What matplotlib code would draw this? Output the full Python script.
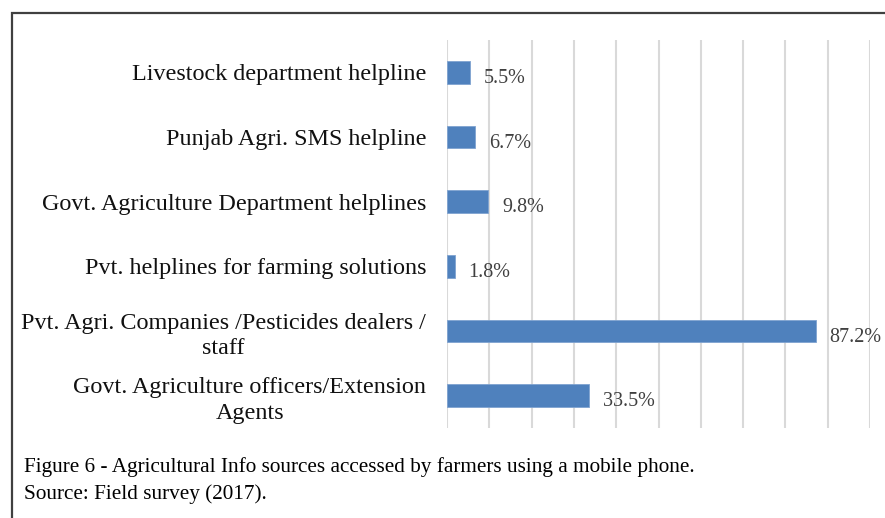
import matplotlib.pyplot as plt
from matplotlib.patches import Rectangle

# ---------------------------------
# data (top to bottom)
# ---------------------------------
categories = [
    "Livestock department helpline",
    "Punjab Agri. SMS helpline",
    "Govt. Agriculture Department helplines",
    "Pvt. helplines for farming solutions",
    "Pvt. Agri. Companies /Pesticides dealers /\nstaff",
    "Govt. Agriculture officers/Extension\nAgents",
]
values = [5.5, 6.7, 9.8, 1.8, 87.2, 33.5]
value_labels = ["5.5%", "6.7%", "9.8%", "1.8%", "87.2%", "33.5%"]

plt.rcParams["font.family"] = ["Liberation Serif", "DejaVu Serif"]

fig = plt.figure(figsize=(8.85, 5.18), dpi=100)
ax = fig.add_axes([447 / 885, 1 - 428 / 518, 423 / 885, 388 / 518])

y = range(len(categories))
ax.barh(y, values, height=0.35, color="#4F81BD", edgecolor="#7FA3D0", linewidth=0.6, zorder=3)

for i, (v, lab) in enumerate(zip(values, value_labels)):
    ax.annotate(lab, (v, i), xytext=(10, -4.5), textcoords="offset points",
                ha="left", va="center", fontsize=14.5, color="#404040")

ax.set_xlim(0, 100)
ax.set_ylim(len(categories) - 0.5, -0.5)
ax.set_xticks(range(0, 101, 10))
ax.set_xticklabels([])
ax.tick_params(axis="both", length=0)
ax.grid(axis="x", color="#D9D9D9", linewidth=1.5, zorder=0)
for s in ax.spines.values():
    s.set_visible(False)

ax.set_yticks(list(y))
ax.set_yticklabels(categories, fontsize=17.4, color="#111111",
                   multialignment="center", linespacing=1.3)
ax.tick_params(axis="y", pad=15)

# ---------------------------------
# caption
# ---------------------------------
fig.text(24 / 885, 1 - 467 / 518, "Figure 6 - Agricultural Info sources accessed by farmers using a mobile phone.",
         fontsize=15.3, va="center", ha="left", color="black")
fig.text(24 / 885, 1 - 494 / 518, "Source: Field survey (2017).",
         fontsize=15.3, va="center", ha="left", color="black")

# ---------------------------------
# frame
# ---------------------------------
fig.patches.append(Rectangle((11.5 / 885, -0.05), 1.0, 1 - 12.5 / 518 + 0.05,
                             transform=fig.transFigure, fill=False,
                             edgecolor="#404040", linewidth=1.6))

fig.savefig("out.png", dpi=100)
